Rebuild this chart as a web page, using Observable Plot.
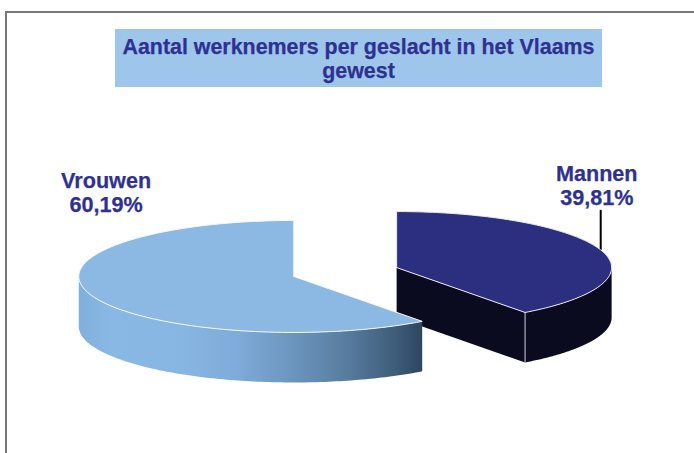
<!DOCTYPE html>
<html>
<head>
<meta charset="utf-8">
<script src="https://cdn.jsdelivr.net/npm/d3@7"></script>
<script src="https://cdn.jsdelivr.net/npm/@observablehq/plot@0.6"></script>
<style>
  html, body { margin: 0; padding: 0; background: #fff; overflow: hidden; }
  #page { position: relative; width: 694px; height: 453px; font-family: "Liberation Sans", Arial, sans-serif; }
  #page svg { position: absolute; left: 0; top: 0; background: transparent; }
  #frame { position: absolute; left: 5px; top: 11px; right: 0; bottom: 0; border-left: 2px solid #777; border-top: 2px solid #777; }
  #title { position: absolute; left: 115px; top: 29px; width: 487px; height: 58px; background: #9dc6ea; color: #2e3192;
           font-weight: bold; font-size: 21.4px; line-height: 24px; text-align: center; padding-top: 6px; box-sizing: border-box;
           -webkit-text-stroke: 0.25px #2e3192; }
</style>
</head>
<body>
<div id="page">
  <div id="frame"></div>
  <div id="title">Aantal werknemers per geslacht in het Vlaams<br>gewest</div>
</div>
<script>
// Data
const categories = ["Mannen", "Vrouwen"];
const shares = [39.81, 60.19];
const topColors = ["#2c2e80", "#8cb9e3"];
const sideColors = ["#0a0b1e", "url(#wallGradient)"];
const labelX = [1.17, -1.112];
const labelY = [-1.55, -1.43];
const gradientOffsets = [0, 0.09, 0.3, 0.47, 0.62, 0.78, 0.92, 1];
const gradientColors = ["#7fafdc", "#8ab8e4", "#88b6e2", "#7ea9d8", "#6c96be", "#587c9f", "#3e5d7a", "#2d4660"];

// Pie projection (unit circle squashed by the y scale)
const explode = 0.252;
const depth = 0.893;
const total = d3.sum(shares);
const TAU = Math.PI * 2;

const slices = [];
let acc = 0;
for (let i = 0; i < shares.length; i++) {
  const a0 = acc / total * TAU;
  acc += shares[i];
  const a1 = acc / total * TAU;
  const mid = (a0 + a1) / 2;
  slices.push({
    name: categories[i], value: shares[i], a0, a1, mid,
    cx: explode * Math.sin(mid), cy: -explode * Math.cos(mid)
  });
}
const rim = (s, a) => ({x: s.cx + Math.sin(a), y: s.cy - Math.cos(a)});
const arc = (s, a0, a1) => d3.range(0, 121).map(k => rim(s, a0 + (a1 - a0) * k / 120));
const drop = p => ({x: p.x, y: p.y + depth});
const sector = s => [{x: s.cx, y: s.cy}, ...arc(s, s.a0, s.a1), {x: s.cx, y: s.cy}];
// Outer wall: the part of the rim that faces the viewer (from 3 o'clock through 6 to 9)
const wall = s => {
  const a0 = Math.max(s.a0, Math.PI / 2), a1 = Math.min(s.a1, Math.PI * 1.5);
  const edge = arc(s, a0, a1);
  return [...edge, ...edge.slice().reverse().map(drop)];
};
const cutWall = s => {
  const c = {x: s.cx, y: s.cy}, tip = rim(s, s.a1 < Math.PI ? s.a1 : s.a0);
  return [c, tip, drop(tip), drop(c)];
};
const [men, women] = slices;
const poly = (pts, fill, stroke = "none", strokeWidth = 0) =>
  Plot.line(pts, {x: "x", y: "y", fill, stroke, strokeWidth, curve: "linear"});

const labels = slices.map((s, i) => ({
  x: labelX[i], y: labelY[i],
  text: `${s.name}\n${s.value.toFixed(2).replace(".", ",")}%`
}));
const leaderFoot = rim(men, men.mid);

const chart = Plot.plot({
  width: 694, height: 453, margin: 0,
  style: {background: "transparent"},
  x: {domain: [-1, 1], range: [129.7, 559.7], axis: null},
  y: {domain: [-1, 1], range: [215.5, 327.5], axis: null},
  marks: [
    () => {
      const defs = d3.create("svg:defs");
      const g = defs.append("linearGradient").attr("id", "wallGradient");
      gradientOffsets.forEach((o, i) => g.append("stop").attr("offset", o).attr("stop-color", gradientColors[i]));
      return defs.node();
    },
    // leader line, behind the slice
    Plot.link([{x: leaderFoot.x, y1: leaderFoot.y, y2: labelY[0] + 0.44}],
      {x1: "x", x2: "x", y1: "y1", y2: "y2", stroke: "#000", strokeWidth: 2}),
    // Mannen
    poly(wall(men), sideColors[0]),
    poly(cutWall(men), sideColors[0]),
    poly([rim(men, men.a1), drop(rim(men, men.a1))], "none", "#c9ccd6", 1),
    poly(sector(men), topColors[0], "#e8ecf3", 1),
    // Vrouwen
    poly(wall(women), sideColors[1]),
    poly(sector(women), topColors[1], "#f4f8fc", 1),
    // labels
    Plot.text(labels, {
      x: "x", y: "y", text: "text", fill: "#2e3192",
      fontFamily: "Liberation Sans, Arial, sans-serif", fontWeight: "bold", fontSize: 21.6, lineHeight: 1.12,
      stroke: "#2e3192", strokeWidth: 0.25
    })
  ]
});
document.getElementById("page").appendChild(chart);
</script>
</body>
</html>
